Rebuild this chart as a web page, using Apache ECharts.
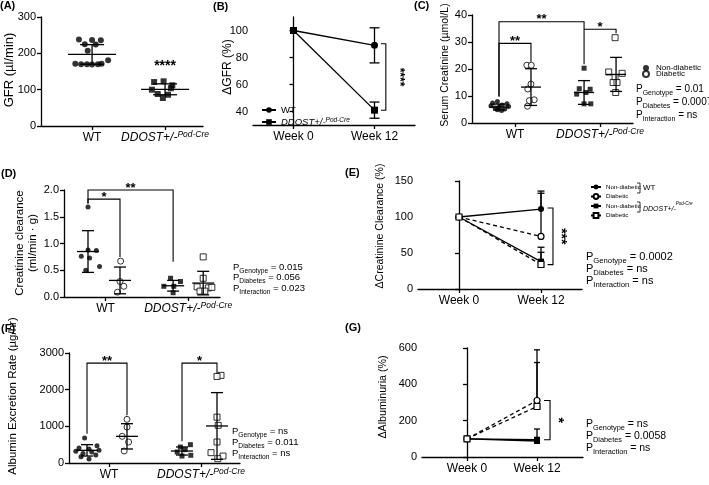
<!DOCTYPE html>
<html>
<head>
<meta charset="utf-8">
<script src="https://cdn.jsdelivr.net/npm/echarts@6.0.0/dist/echarts.min.js"></script>
<style>
  html, body { margin: 0; padding: 0; background: #fff; }
  #chart { width: 709px; height: 485px; }
</style>
</head>
<body>
<div id="chart"></div>
<script>
  const FONT = 'Liberation Sans, Arial, sans-serif';
  const black = '#000';

  // ---- (A) GFR, ul/min
  const gfrWT = [238, 237, 236, 225, 224, 207, 181, 171, 170, 170, 169, 170, 171];
  const gfrWTJit = [-0.18, 0.0, 0.12, -0.10, 0.05, -0.06, 0.22, -0.23, -0.15, -0.07, 0.0, 0.08, 0.13];
  const gfrDD = [121, 123, 112, 104, 100, 88, 86, 77];
  const gfrDDJit = [-0.15, -0.02, 0.1, 0.08, -0.18, -0.1, 0.04, -0.03];
  const gfrMean = [197, 101];
  const gfrSd = [27, 15];

  // ---- (B) delta GFR %
  const weeks = ['Week 0', 'Week 12'];
  const dGfrWT = [100, 89], dGfrWTSd = [0, 13];
  const dGfrDD = [100, 41], dGfrDDSd = [0, 6];

  // ---- (C) serum creatinine, umol/L
  const scrWTnd = [8, 7.4, 7.1, 6.7, 6.4, 6.1, 5.9, 5.6, 5.2, 4.9, 4.6];
  const scrWTndJit = [-0.05, -0.2, 0.25, 0.1, -0.25, 0.3, 0, -0.12, 0.18, -0.05, 0.08];
  const scrWTd = [21.4, 21.4, 14.4, 12.6, 8.6, 8.3, 6.2];
  const scrWTdJit = [-0.13, 0.01, 0, -0.1, 0.1, -0.05, -0.11];
  const scrDDnd = [20.3, 12.7, 12.5, 11.3, 10.7, 7.1, 7.1];
  const scrDDndJit = [0, -0.15, 0.19, 0.06, -0.23, 0, 0.21];
  const scrDDd = [31.6, 18.9, 18.4, 16.8, 15.0, 15.0, 11.3];
  const scrDDdJit = [-0.03, -0.23, 0.19, -0.03, -0.09, 0.03, -0.01];
  const scrMean = [5.9, 13.3, 11.3, 18];
  const scrSd = [1.1, 6.8, 4.4, 6.3];

  // ---- (D) creatinine clearance, ml/min.g
  const clWTnd = [1.68, 0.88, 0.87, 0.76, 0.73, 0.57, 0.50];
  const clWTndJit = [0, 0, 0.26, -0.21, 0.05, 0.36, -0.07];
  const clWTd = [0.67, 0.29, 0.2, 0.09];
  const clWTdJit = [0.02, 0, 0.12, -0.08];
  const clDDnd = [0.35, 0.29, 0.2, 0.2, 0.08];
  const clDDndJit = [-0.08, 0.23, -0.29, 0.02, 0];
  const clDDd = [0.75, 0.35, 0.19, 0.17, 0.18, 0.11, 0.11];
  const clDDdJit = [0, 0, -0.19, 0.16, 0.27, -0.1, 0.05];
  const clMean = [0.85, 0.31, 0.21, 0.26];
  const clSd = [0.39, 0.25, 0.1, 0.22];

  // ---- (E) delta creatinine clearance %
  const dClWTnd = [100, 111], dClWTndSd = [0, 22];
  const dClWTd = [100, 73], dClWTdSd = [0, 63];
  const dClDDnd = [100, 38], dClDDndSd = [0, 20];
  const dClDDd = [100, 34], dClDDdSd = [0, 17];

  // ---- (F) albumin excretion rate, ug/hr
  const aerWTnd = [680, 470, 410, 380, 350, 320, 300, 260, 220, 170, 110];
  const aerWTndJit = [-0.06, 0.25, -0.2, 0.05, 0.3, -0.28, 0.12, -0.1, 0.22, -0.15, 0.05];
  const aerWTd = [1190, 980, 727, 573, 327];
  const aerWTdJit = [0, 0, -0.12, 0.04, -0.07];
  const aerDDnd = [500, 436, 364, 300, 190, 210];
  const aerDDndJit = [0.21, -0.04, 0.08, -0.12, 0, 0.22];
  const aerDDd = [2390, 2360, 1250, 1027, 573, 282, 190, 118];
  const aerDDdJit = [0.1, 0, 0, 0.03, 0, -0.15, 0.15, 0.02];
  const aerMean = [345, 727, 327, 1010];
  const aerSd = [155, 345, 110, 910];

  // ---- (G) delta albuminuria %
  const dAlbWTnd = [100, 95], dAlbWTndSd = [0, 59];
  const dAlbWTd = [100, 311], dAlbWTdSd = [0, 279];
  const dAlbDDnd = [100, 88], dAlbDDndSd = [0, 20];
  const dAlbDDd = [100, 278], dAlbDDdSd = [0, 242];

  // significance brackets: [x1, x2, yTop, yLeftEnd, yRightEnd, stars]
  const bracketsC = [[1, 3.66, 37.5, 9.8, 21.8, '**'], [1, 2, 29.5, 9.8, 22.7, '**'], [3.66, 4.66, 34.7, 34.7, 33.2, '*']];
  const bracketsD = [[1, 2, 1.83, 1.75, 0.75, '*'], [1, 3.66, 2.0, 1.75, 0.66, '**']];
  const bracketsF = [[1, 2, 2725, 800, 1300, '**'], [3.375, 4.25, 2725, 590, 2435, '*']];
  // vertical brackets: [x, y1, y2, xTickEnd, stars]
  const vBracketB = [[1.14, 90.2, 40.9, 1.08, '****']];
  const vBracketE = [[1.146, 112.5, 33.8, 1.08, '***']];
  const vBracketG = [[1.186, 311, 95, 1.1, '*']];

  const posA = [1, 2];
  const posC = [1, 2, 3.66, 4.66];
  const posD = [1, 2, 3.66, 4.6];
  const posF = [1, 2, 3.375, 4.25];
  const weekPos = [0, 1];
  const groupLabels = ['{m|WT}', '{m2|DDOST+/-}{s|Pod-Cre}'];

  const xRich = {
    m: {fontSize: 12, fontFamily: FONT, color: black, lineHeight: 14, verticalAlign: 'bottom'},
    m2: {fontSize: 12, fontFamily: FONT, fontStyle: 'italic', color: black, lineHeight: 14, verticalAlign: 'bottom'},
    s: {fontSize: 8.5, fontFamily: FONT, fontStyle: 'italic', color: black, lineHeight: 9, verticalAlign: 'top', padding: [0, 0, 9, 0]}
  };

  let chart = echarts.init(document.getElementById('chart'));

  function yAx(g, min, max, interval, custom, fmt) {
    let ax = {
      type: 'value', gridIndex: g, min: min, max: max,
      axisLine: {show: true, lineStyle: {color: black, width: 1.3}},
      axisTick: {show: true, length: 4, lineStyle: {color: black, width: 1.3}},
      splitLine: {show: false},
      axisLabel: {color: black, fontSize: 11, fontFamily: FONT, margin: 5, formatter: fmt || (v => String(v))}
    };
    if (interval) ax.interval = interval;
    if (custom) {
      ax.axisTick.customValues = custom;
      ax.axisLabel.customValues = custom;
    }
    return ax;
  }

  function xAx(g, min, max, ticks, labels) {
    return {
      type: 'value', gridIndex: g, min: min, max: max,
      axisLine: {show: true, onZero: false, lineStyle: {color: black, width: 1.3}},
      axisTick: {show: true, length: 4, customValues: ticks, lineStyle: {color: black, width: 1.3}},
      splitLine: {show: false},
      axisLabel: {
        customValues: ticks, color: black, fontSize: 12, fontFamily: FONT,
        verticalAlign: 'bottom', margin: 18, rich: xRich,
        formatter: v => labels[ticks.findIndex(t => Math.abs(t - v) < 1e-6)] || ''
      }
    };
  }

  function dots(name, g, pos, vals, jit, symbol, open, size) {
    return {
      name: name, type: 'scatter', xAxisIndex: g, yAxisIndex: g,
      symbol: symbol, symbolSize: size || 6, z: 3,
      itemStyle: open ? {color: '#fff', borderColor: black, borderWidth: 1} : {color: black},
      data: vals.map((v, i) => [pos + jit[i], v])
    };
  }

  function meanSd(g, pos, mean, sd, half, cap) {
    return {
      type: 'custom', xAxisIndex: g, yAxisIndex: g, z: 4, clip: false,
      data: mean.map((m, i) => [pos[i], m, sd[i]]),
      renderItem: (params, api) => {
        let x = api.value(0), m = api.value(1), s = api.value(2);
        let c = api.coord([x, m]), t = api.coord([x, m + s]), b = api.coord([x, m - s]);
        let st = {stroke: black, lineWidth: 1.3};
        return {type: 'group', children: [
          {type: 'line', shape: {x1: c[0] - half, y1: c[1], x2: c[0] + half, y2: c[1]}, style: st},
          {type: 'line', shape: {x1: c[0], y1: t[1], x2: c[0], y2: b[1]}, style: st},
          {type: 'line', shape: {x1: c[0] - cap, y1: t[1], x2: c[0] + cap, y2: t[1]}, style: st},
          {type: 'line', shape: {x1: c[0] - cap, y1: b[1], x2: c[0] + cap, y2: b[1]}, style: st}
        ]};
      }
    };
  }

  function lineS(name, g, ys, symbol, open, dashed, size) {
    return {
      name: name, type: 'line', xAxisIndex: g, yAxisIndex: g, z: 3,
      data: weekPos.map((x, i) => [x, ys[i]]),
      symbol: symbol, symbolSize: size || 7, showSymbol: true,
      lineStyle: {color: black, width: 1.3, type: dashed ? [4, 3] : 'solid'},
      itemStyle: open ? {color: '#fff', borderColor: black, borderWidth: 1.2} : {color: black, borderColor: black, borderWidth: 0}
    };
  }

  function errBars(g, ys, sds, both, cap) {
    return {
      type: 'custom', xAxisIndex: g, yAxisIndex: g, z: 2, clip: false,
      data: weekPos.map((x, i) => [x, ys[i], sds[i]]).filter(d => d[2] > 0),
      renderItem: (params, api) => {
        let x = api.value(0), m = api.value(1), s = api.value(2);
        let t = api.coord([x, m + s]), b = api.coord([x, both ? m - s : m]);
        let st = {stroke: black, lineWidth: 1.3};
        let kids = [
          {type: 'line', shape: {x1: t[0], y1: t[1], x2: t[0], y2: b[1]}, style: st},
          {type: 'line', shape: {x1: t[0] - cap, y1: t[1], x2: t[0] + cap, y2: t[1]}, style: st}
        ];
        if (both) kids.push({type: 'line', shape: {x1: b[0] - cap, y1: b[1], x2: b[0] + cap, y2: b[1]}, style: st});
        return {type: 'group', children: kids};
      }
    };
  }

  function brackets(g, list, size) {
    return {
      type: 'custom', xAxisIndex: g, yAxisIndex: g, z: 5, clip: false,
      data: list.map(b => b.slice(0, 5)),
      renderItem: (params, api) => {
        let b = list[params.dataIndex];
        let l = api.coord([b[0], b[3]]), lt = api.coord([b[0], b[2]]);
        let rt = api.coord([b[1], b[2]]), r = api.coord([b[1], b[4]]);
        return {type: 'group', children: [
          {type: 'polyline', shape: {points: [l, lt, rt, r]}, style: {stroke: black, lineWidth: 1.1, fill: null}},
          {type: 'text', x: (lt[0] + rt[0]) / 2, y: lt[1] - 2,
            style: {text: b[5], fontSize: size, fontWeight: 'bold', fontFamily: FONT, fill: black, align: 'center', verticalAlign: 'middle'}}
        ]};
      }
    };
  }

  function vBrackets(g, list, dx, size) {
    return {
      type: 'custom', xAxisIndex: g, yAxisIndex: g, z: 5, clip: false,
      data: list.map(b => b.slice(0, 4)),
      renderItem: (params, api) => {
        let b = list[params.dataIndex];
        let p1 = api.coord([b[3], b[1]]), p2 = api.coord([b[0], b[1]]);
        let p3 = api.coord([b[0], b[2]]), p4 = api.coord([b[3], b[2]]);
        return {type: 'group', children: [
          {type: 'polyline', shape: {points: [p1, p2, p3, p4]}, style: {stroke: black, lineWidth: 1.1, fill: null}},
          {type: 'text', x: p2[0] + dx, y: (p2[1] + p3[1]) / 2, rotation: -Math.PI / 2,
            style: {text: b[4], fontSize: size, fontWeight: 'bold', fontFamily: FONT, fill: black, align: 'center', verticalAlign: 'middle'}}
        ]};
      }
    };
  }

  function starText(g, x, y, text, size) {
    return {
      type: 'custom', xAxisIndex: g, yAxisIndex: g, z: 5, clip: false,
      data: [[x, y]],
      renderItem: (params, api) => {
        let c = api.coord([api.value(0), api.value(1)]);
        return {type: 'text', x: c[0], y: c[1],
          style: {text: text, fontSize: size, fontWeight: 'bold', fontFamily: FONT, fill: black, align: 'center', verticalAlign: 'middle'}};
      }
    };
  }

  // P-value line with subscript; (x, y) = left edge, centre of the main text
  function pText(x, y, sub, val, size) {
    return {
      type: 'text', x: x, y: y + 4,
      style: {
        text: '{p|P}{s|' + sub + '}{p| = ' + val + '}',
        verticalAlign: 'middle', align: 'left',
        rich: {
          p: {fontSize: size, fontFamily: FONT, fill: black, lineHeight: size + 2, verticalAlign: 'top'},
          s: {fontSize: size * 0.7, fontFamily: FONT, fill: black, lineHeight: size + 8, verticalAlign: 'middle'}
        }
      }
    };
  }

  function rotText(text, x, y, size, lh) {
    return {type: 'text', x: x, y: y, rotation: Math.PI / 2,
      style: {text: text, fontSize: size, fontFamily: FONT, fill: black, align: 'center', verticalAlign: 'middle', lineHeight: lh || size + 2}};
  }

  function title(text, x, y) {
    return {type: 'text', x: x, y: y,
      style: {text: text, fontSize: 11, fontWeight: 'bold', fontFamily: FONT, fill: black, align: 'left', verticalAlign: 'middle'}};
  }

  let option = {
    animation: false,
    backgroundColor: '#fff',
    grid: [
      {left: 41, top: 17, width: 162, height: 109},
      {left: 253, top: 17, width: 162, height: 108},
      {left: 472, top: 15, width: 161, height: 108},
      {left: 64, top: 190, width: 156, height: 107},
      {left: 418, top: 181, width: 164, height: 108},
      {left: 69, top: 353, width: 171, height: 110},
      {left: 422, top: 348, width: 161, height: 109}
    ],
    xAxis: [
      xAx(0, 0.3, 2.52, posA, groupLabels),
      xAx(1, -0.5, 1.5, weekPos, weeks),
      xAx(2, 0.156, 5.19, [1.5, 4.16], groupLabels),
      xAx(3, 0.25, 5.125, [1.55, 4.13], groupLabels),
      xAx(4, -0.5, 1.5, weekPos, weeks),
      xAx(5, 0.55, 4.825, [1.55, 3.85], groupLabels),
      xAx(6, -0.643, 1.657, weekPos, weeks)
    ],
    yAxis: [
      yAx(0, 0, 300, 100),
      yAx(1, 30, 110, null, [40, 60, 80, 100]),
      yAx(2, 0, 40, 10),
      yAx(3, 0, 2, 0.5, null, v => v.toFixed(1)),
      yAx(4, 0, 150, 50),
      yAx(5, 0, 3000, 1000),
      yAx(6, 0, 600, 200)
    ],
    legend: [
      {
        data: ['B-WT', 'B-DD'], orient: 'vertical', left: 256, top: 100,
        itemWidth: 14, itemHeight: 7, itemGap: 2,
        formatter: n => n === 'B-WT' ? 'WT' : '{i|DDOST+/-}{s|Pod-Cre}',
        textStyle: {fontSize: 9.5, fontFamily: FONT, color: black, lineHeight: 10,
          rich: {
            i: {fontSize: 9.5, fontStyle: 'italic', fontFamily: FONT, color: black},
            s: {fontSize: 6.5, fontStyle: 'italic', fontFamily: FONT, color: black, verticalAlign: 'top', padding: [0, 0, 6, 0]}
          }}
      },
      {
        data: ['C-WTnd', 'C-WTd'], orient: 'vertical', left: 637, top: 59,
        itemWidth: 6, itemHeight: 6, itemGap: -2,
        formatter: n => n === 'C-WTnd' ? 'Non-diabetic' : 'Diabetic',
        textStyle: {fontSize: 8, fontFamily: FONT, color: black, lineHeight: 6.5, padding: [0, 0, 0, 2]}
      },
      {
        data: ['E-WTnd', 'E-WTd', 'E-DDnd', 'E-DDd'], orient: 'vertical', left: 585, top: 178,
        itemWidth: 10, itemHeight: 6, itemGap: 1.5,
        formatter: n => n.endsWith('nd') ? 'Non-diabetic' : 'Diabetic',
        textStyle: {fontSize: 6.2, fontFamily: FONT, color: black, lineHeight: 8}
      }
    ],
    graphic: [
      title('(A)', 0, 6), title('(B)', 213, 7), title('(C)', 414, 6), title('(D)', 1, 174),
      title('(E)', 345, 173), title('(F)', 1, 329), title('(G)', 345, 328),
      rotText('GFR (\u00b5l/min)', 9, 70, 13),
      rotText('\u0394GFR (%)', 228, 67, 12),
      rotText('Serum Creatinine (\u00b5mol/L)', 445, 65, 10.5),
      rotText('Creatinine clearance\n(ml/min \u00b7 g)', 26.5, 243, 11.5, 13),
      rotText('\u0394Creatinine Clearance (%)', 380, 226, 10.5),
      rotText('Albumin Excretion Rate (\u00b5g/hr)', 13, 396, 11.5),
      rotText('\u0394Albuminuria (%)', 383, 397, 10.7),
      pText(636, 89, 'Genotype', '0.01', 10), pText(636, 102, 'Diabetes', '0.0007', 10), pText(636, 115, 'Interaction', 'ns', 10),
      pText(233, 267, 'Genotype', '0.015', 9.5), pText(233, 277.5, 'Diabetes', '0.056', 9.5), pText(233, 288, 'Interaction', '0.023', 9.5),
      pText(586, 257, 'Genotype', '0.0002', 11), pText(586, 269, 'Diabetes', 'ns', 11), pText(586, 281, 'Interaction', 'ns', 11),
      pText(232, 431, 'Genotype', 'ns', 9.5), pText(232, 442, 'Diabetes', '0.011', 9.5), pText(232, 453, 'Interaction', 'ns', 9.5),
      pText(586, 423.5, 'Genotype', 'ns', 10.5), pText(586, 435.5, 'Diabetes', '0.0058', 10.5), pText(586, 447.5, 'Interaction', 'ns', 10.5),
      {type: 'polyline', shape: {points: [[637, 183], [640, 183], [640, 193], [637, 193]]}, style: {stroke: black, lineWidth: 0.8, fill: null}},
      {type: 'text', x: 643, y: 188, style: {text: 'WT', fontSize: 8, fontFamily: FONT, fill: black, verticalAlign: 'middle'}},
      {type: 'polyline', shape: {points: [[637, 202], [640, 202], [640, 212], [637, 212]]}, style: {stroke: black, lineWidth: 0.8, fill: null}},
      {type: 'text', x: 643, y: 207, style: {text: '{i|DDOST+/-}{s|Pod-Cre}', verticalAlign: 'middle',
        rich: {
          i: {fontSize: 7, fontStyle: 'italic', fontFamily: FONT, fill: black, lineHeight: 8, verticalAlign: 'bottom'},
          s: {fontSize: 4.5, fontStyle: 'italic', fontFamily: FONT, fill: black, lineHeight: 11, verticalAlign: 'top'}
        }}}
    ],
    series: [
      // A
      dots('A-WT', 0, posA[0], gfrWT, gfrWTJit, 'circle', false, 6),
      dots('A-DD', 0, posA[1], gfrDD, gfrDDJit, 'rect', false, 6),
      meanSd(0, posA, gfrMean, gfrSd, 24, 12),
      starText(0, 2, 165, '****', 14),
      // B
      lineS('B-WT', 1, dGfrWT, 'circle', false, false, 7),
      lineS('B-DD', 1, dGfrDD, 'rect', false, false, 7),
      errBars(1, dGfrWT, dGfrWTSd, true, 5),
      errBars(1, dGfrDD, dGfrDDSd, true, 5),
      vBrackets(1, vBracketB, 13, 12),
      // C
      dots('C-WTnd', 2, posC[0], scrWTnd, scrWTndJit, 'circle', false, 5),
      dots('C-WTd', 2, posC[1], scrWTd, scrWTdJit, 'circle', true, 6),
      dots('C-DDnd', 2, posC[2], scrDDnd, scrDDndJit, 'rect', false, 5),
      dots('C-DDd', 2, posC[3], scrDDd, scrDDdJit, 'rect', true, 6),
      meanSd(2, posC, scrMean, scrSd, 10, 6),
      brackets(2, bracketsC, 13),
      // D
      dots('D-WTnd', 3, posD[0], clWTnd, clWTndJit, 'circle', false, 5),
      dots('D-WTd', 3, posD[1], clWTd, clWTdJit, 'circle', true, 6),
      dots('D-DDnd', 3, posD[2], clDDnd, clDDndJit, 'rect', false, 5),
      dots('D-DDd', 3, posD[3], clDDd, clDDdJit, 'rect', true, 6),
      meanSd(3, posD, clMean, clSd, 11, 6),
      brackets(3, bracketsD, 13),
      // E
      errBars(4, dClWTnd, dClWTndSd, false, 3.5),
      errBars(4, dClWTd, dClWTdSd, false, 3.5),
      errBars(4, dClDDnd, dClDDndSd, false, 3.5),
      errBars(4, dClDDd, dClDDdSd, false, 3.5),
      lineS('E-WTnd', 4, dClWTnd, 'circle', false, false, 6),
      lineS('E-WTd', 4, dClWTd, 'circle', true, true, 6),
      lineS('E-DDnd', 4, dClDDnd, 'rect', false, false, 6),
      lineS('E-DDd', 4, dClDDd, 'rect', true, true, 6),
      vBrackets(4, vBracketE, 8, 14),
      // F
      dots('F-WTnd', 5, posF[0], aerWTnd, aerWTndJit, 'circle', false, 5),
      dots('F-WTd', 5, posF[1], aerWTd, aerWTdJit, 'circle', true, 6),
      dots('F-DDnd', 5, posF[2], aerDDnd, aerDDndJit, 'rect', false, 5),
      dots('F-DDd', 5, posF[3], aerDDd, aerDDdJit, 'rect', true, 6),
      meanSd(5, posF, aerMean, aerSd, 11, 6),
      brackets(5, bracketsF, 13),
      // G
      errBars(6, dAlbWTnd, dAlbWTndSd, false, 3),
      errBars(6, dAlbWTd, dAlbWTdSd, false, 3),
      errBars(6, dAlbDDnd, dAlbDDndSd, false, 3),
      errBars(6, dAlbDDd, dAlbDDdSd, false, 3),
      lineS('G-WTnd', 6, dAlbWTnd, 'circle', false, false, 6),
      lineS('G-WTd', 6, dAlbWTd, 'circle', true, true, 6),
      lineS('G-DDnd', 6, dAlbDDnd, 'rect', false, false, 6),
      lineS('G-DDd', 6, dAlbDDd, 'rect', true, true, 6),
      vBrackets(6, vBracketG, 8, 14)
    ]
  };

  chart.setOption(option);
</script>
</body>
</html>
